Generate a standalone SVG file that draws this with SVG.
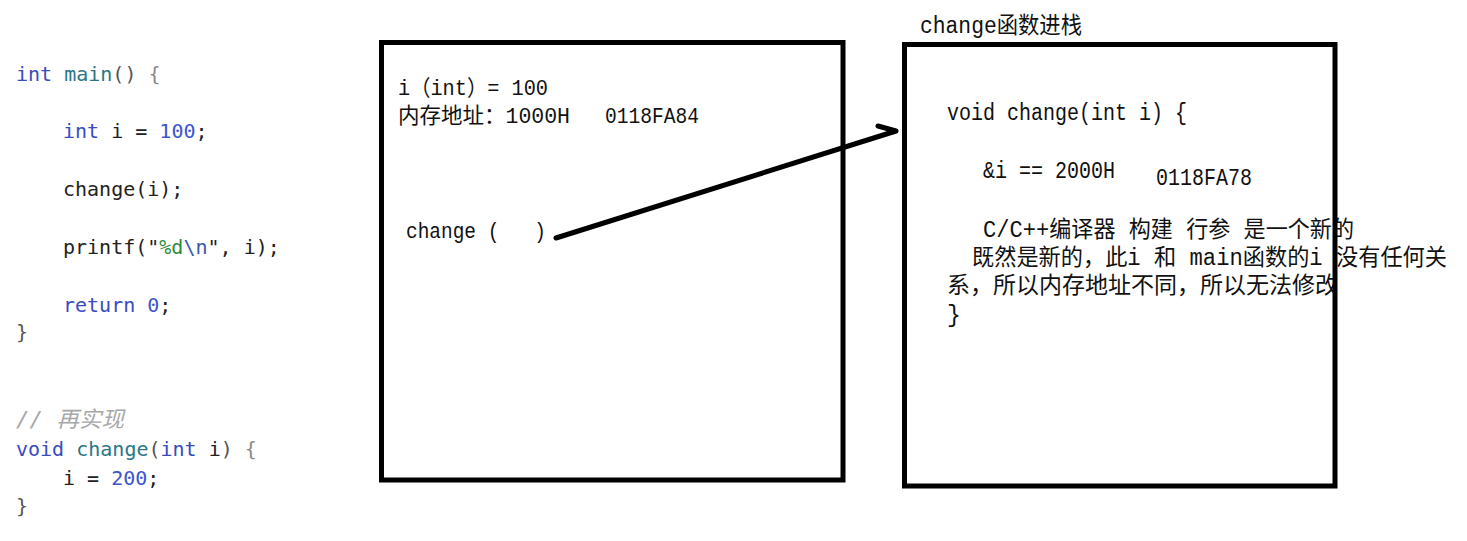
<svg xmlns="http://www.w3.org/2000/svg" width="1467" height="541" viewBox="0 0 1467 541">
<style>
  text { white-space: pre; }
  .code { font-family: "DejaVu Sans Mono", "Noto Sans CJK SC", monospace; font-size: 20px; fill: #222; }
  .kw { fill: #3a4bbf; }
  .fn { fill: #2b7785; }
  .num { fill: #3d55cf; }
  .str { fill: #2e8b3a; }
  .esc { fill: #3a5aa8; }
  .pn { fill: #555; }
  .br { fill: #8a8a8a; }
  .cm { font-family: "DejaVu Sans Mono", "Noto Sans CJK SC", monospace; font-size: 22px; fill: #a8a8a8; font-style: italic; }
  .note { font-family: "Liberation Mono", "Noto Sans CJK SC", monospace; font-size: 23px; fill: #111; }
  .mid { font-family: "Liberation Mono", "Noto Sans CJK SC", monospace; font-size: 22px; fill: #111; }
  .box { fill: none; stroke: #000; stroke-width: 5; }
  .conn { fill: none; stroke: #000; stroke-width: 5; stroke-linecap: round; stroke-linejoin: round; }
</style>
<rect x="0" y="0" width="1467" height="541" fill="#fff"/>

<g id="main-code">
  <text class="code" x="16" y="81"><tspan class="kw">int</tspan> <tspan class="fn">main</tspan><tspan class="pn">()</tspan> <tspan class="br">{</tspan></text>
  <text class="code" x="63" y="138"><tspan class="kw">int</tspan> i = <tspan class="num">100</tspan>;</text>
  <text class="code" x="63" y="196">change(i);</text>
  <text class="code" x="63" y="254">printf("<tspan class="str">%d</tspan><tspan class="esc">\n</tspan>", i);</text>
  <text class="code" x="63" y="312"><tspan class="kw">return</tspan> <tspan class="num">0</tspan>;</text>
  <text class="code pn" x="16" y="339">}</text>
</g>

<g id="change-code">
  <text class="cm" x="16" y="427" textLength="108" lengthAdjust="spacingAndGlyphs">// 再实现</text>
  <text class="code" x="16" y="456"><tspan class="kw">void</tspan> <tspan class="fn">change</tspan><tspan class="pn">(</tspan><tspan class="kw">int</tspan> i<tspan class="pn">)</tspan> <tspan class="br">{</tspan></text>
  <text class="code" x="63" y="485">i = <tspan class="num">200</tspan>;</text>
  <text class="code pn" x="16" y="513">}</text>
</g>

<g id="main-frame">
  <text class="mid" x="398" y="95" textLength="150" lengthAdjust="spacingAndGlyphs">i（int）= 100</text>
  <text class="mid" x="398" y="123" textLength="172" lengthAdjust="spacingAndGlyphs">内存地址：1000H</text>
  <text class="mid" x="605" y="123" textLength="94" lengthAdjust="spacingAndGlyphs">0118FA84</text>
  <text class="mid" x="406" y="238" xml:space="preserve" textLength="140" lengthAdjust="spacingAndGlyphs">change (   )</text>
  <rect class="box" x="381.5" y="42.5" width="461.5" height="437.5"/>
</g>

<g id="change-frame">
  <text class="note" x="920" y="33" textLength="162" lengthAdjust="spacingAndGlyphs">change函数进栈</text>
  <text class="note" x="947" y="120" textLength="240" lengthAdjust="spacingAndGlyphs">void change(int i) {</text>
  <text class="note" x="983" y="178" textLength="132" lengthAdjust="spacingAndGlyphs">&amp;i == 2000H</text>
  <text class="note" x="1156" y="185" textLength="96" lengthAdjust="spacingAndGlyphs">0118FA78</text>
  <text class="note" x="983" y="237" textLength="371" lengthAdjust="spacingAndGlyphs">C/C++编译器 构建 行参 是一个新的</text>
  <text class="note" x="972" y="265" textLength="475" lengthAdjust="spacingAndGlyphs">既然是新的，此i 和 main函数的i 没有任何关</text>
  <text class="note" x="947" y="293" textLength="391" lengthAdjust="spacingAndGlyphs">系，所以内存地址不同，所以无法修改</text>
  <text class="note" x="947" y="322">}</text>
  <rect class="box" x="904.5" y="44.5" width="430.5" height="441.5"/>
</g>

<g id="connectors">
  <path class="conn" d="M556,238 L896,131 M878,126 L896,131"/>
</g>
</svg>
